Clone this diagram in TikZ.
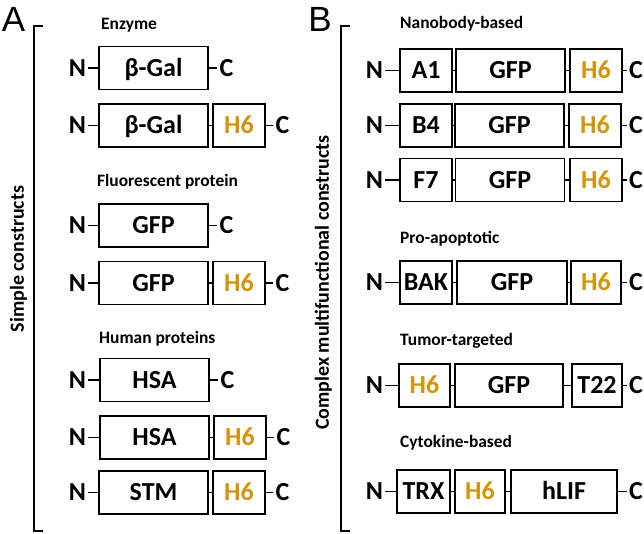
\documentclass[tikz,border=0pt]{standalone}
\usepackage{fontspec}
\setmainfont{Carlito}
\newfontfamily\panelfont{Liberation Sans}
\definecolor{hsixcol}{RGB}{214,148,12}
\begin{document}
\begin{tikzpicture}[x=1pt,y=-1pt,
  dom/.style={draw, line width=1.7pt, minimum height=43pt, inner sep=0pt,
    text height=16.7pt, text depth=0pt,
    font=\fontsize{26}{26}\selectfont\bfseries},
  hsix/.style={dom, text=hsixcol},
  term/.style={inner sep=2pt, font=\fontsize{26}{26}\selectfont\bfseries},
  head/.style={anchor=base west, inner sep=0pt, font=\fontsize{17.4}{17.4}\selectfont\bfseries},
  link/.style={line width=1.4pt},
  brack/.style={line width=1.6pt},
  side/.style={rotate=90, inner sep=0pt, font=\fontsize{20}{20}\selectfont\bfseries},
  panel/.style={inner sep=0pt, font=\fontsize{35}{35}\selectfont\panelfont}]
\useasboundingbox (0,0) rectangle (644,533);

% panel letters and brackets
\node[panel] (pa) at (13.5,19.5) {A};
\node[panel] (pb) at (320,19.5) {B};
\draw[brack] (43,26) -- (34,26) -- (34,531) -- (43,531);
\draw[brack] (350,26) -- (341,26) -- (341,531) -- (350,531);
\node[side] (sa) at (18.5,259) {Simple constructs};
\node[side] (sb) at (323.5,282.5) {Complex multifunctional constructs};

% headers
\node[head] (h1) at (101,29.5) {Enzyme};
\node[head] (h2) at (97,186) {Fluorescent protein};
\node[head] (h3) at (99,343) {Human proteins};
\node[head] (h4) at (400,28.5) {Nanobody-based};
\node[head] (h5) at (400,243) {Pro-apoptotic};
\node[head] (h6) at (400,345) {Tumor-targeted};
\node[head] (h7) at (400,447) {Cytokine-based};

% ---------- Panel A ----------
% row 1
\node[term] (an1) at (77.5,68) {N};
\node[dom, minimum width=109pt] (ab1) at (153.5,68) {β-Gal};
\node[term] (ac1) at (226.5,68) {C};
\draw[link] (an1) -- (ab1); \draw[link] (ab1) -- (ac1);
% row 2
\node[term] (an2) at (77.5,125.5) {N};
\node[dom, minimum width=109pt] (ab2) at (153.5,125.5) {β-Gal};
\node[hsix, minimum width=52pt] (ah2) at (239,125.5) {H6};
\node[term] (ac2) at (282.5,125.5) {C};
\draw[link] (an2) -- (ab2); \draw[link] (ab2) -- (ah2); \draw[link] (ah2) -- (ac2);
% row 3
\node[term] (an3) at (77.5,225.5) {N};
\node[dom, minimum width=109pt] (ab3) at (153.5,225.5) {GFP};
\node[term] (ac3) at (226.5,225.5) {C};
\draw[link] (an3) -- (ab3); \draw[link] (ab3) -- (ac3);
% row 4
\node[term] (an4) at (77.5,283) {N};
\node[dom, minimum width=109pt] (ab4) at (153.5,283) {GFP};
\node[hsix, minimum width=52pt] (ah4) at (239,283) {H6};
\node[term] (ac4) at (282.5,283) {C};
\draw[link] (an4) -- (ab4); \draw[link] (ab4) -- (ah4); \draw[link] (ah4) -- (ac4);
% row 5
\node[term] (an5) at (77.5,380) {N};
\node[dom, minimum width=109pt] (ab5) at (154.5,380) {HSA};
\node[term] (ac5) at (227.5,380) {C};
\draw[link] (an5) -- (ab5); \draw[link] (ab5) -- (ac5);
% row 6
\node[term] (an6) at (77.5,437.5) {N};
\node[dom, minimum width=109pt] (ab6) at (154.5,437.5) {HSA};
\node[hsix, minimum width=52pt] (ah6) at (240,437.5) {H6};
\node[term] (ac6) at (283.5,437.5) {C};
\draw[link] (an6) -- (ab6); \draw[link] (ab6) -- (ah6); \draw[link] (ah6) -- (ac6);
% row 7
\node[term] (an7) at (77.5,492.5) {N};
\node[dom, minimum width=109pt] (ab7) at (153.5,492.5) {STM};
\node[hsix, minimum width=52pt] (ah7) at (239,492.5) {H6};
\node[term] (ac7) at (282.5,492.5) {C};
\draw[link] (an7) -- (ab7); \draw[link] (ab7) -- (ah7); \draw[link] (ah7) -- (ac7);

% ---------- Panel B ----------
% row 1
\node[term] (bn1) at (374.5,70.5) {N};
\node[dom, minimum width=52pt] (bx1) at (426,70.5) {A1};
\node[dom, minimum width=109pt] (bg1) at (510.5,70.5) {GFP};
\node[hsix, minimum width=52pt] (bh1) at (596,70.5) {H6};
\node[term] (bc1) at (636,70.5) {C};
\draw[link] (bn1) -- (bx1); \draw[link] (bx1) -- (bg1); \draw[link] (bg1) -- (bh1); \draw[link] (bh1) -- (bc1);
% row 2
\node[term] (bn2) at (374.5,125.5) {N};
\node[dom, minimum width=52pt] (bx2) at (426,125.5) {B4};
\node[dom, minimum width=109pt] (bg2) at (509.5,125.5) {GFP};
\node[hsix, minimum width=52pt] (bh2) at (595,125.5) {H6};
\node[term] (bc2) at (636,125.5) {C};
\draw[link] (bn2) -- (bx2); \draw[link] (bx2) -- (bg2); \draw[link] (bg2) -- (bh2); \draw[link] (bh2) -- (bc2);
% row 3
\node[term] (bn3) at (374.5,180) {N};
\node[dom, minimum width=52pt] (bx3) at (426,180) {F7};
\node[dom, minimum width=109pt] (bg3) at (510,180) {GFP};
\node[hsix, minimum width=52pt] (bh3) at (596,180) {H6};
\node[term] (bc3) at (636,180) {C};
\draw[link] (bn3) -- (bx3); \draw[link] (bx3) -- (bg3); \draw[link] (bg3) -- (bh3); \draw[link] (bh3) -- (bc3);
% row 4
\node[term] (bn4) at (374.5,282.5) {N};
\node[dom, minimum width=52pt] (bx4) at (426,282.5) {BAK};
\node[dom, minimum width=110pt] (bg4) at (512,282.5) {GFP};
\node[hsix, minimum width=50pt] (bh4) at (596,282.5) {H6};
\node[term] (bc4) at (636,282.5) {C};
\draw[link] (bn4) -- (bx4); \draw[link] (bx4) -- (bg4); \draw[link] (bg4) -- (bh4); \draw[link] (bh4) -- (bc4);
% row 5
\node[term] (bn5) at (374.5,385.5) {N};
\node[hsix, minimum width=51pt] (bh5) at (424.5,385.5) {H6};
\node[dom, minimum width=108pt] (bg5) at (509,385.5) {GFP};
\node[dom, minimum width=50pt] (bt5) at (597,385.5) {T22};
\node[term] (bc5) at (636,385.5) {C};
\draw[link] (bn5) -- (bh5); \draw[link] (bh5) -- (bg5); \draw[link] (bg5) -- (bt5); \draw[link] (bt5) -- (bc5);
% row 6
\node[term] (bn6) at (374.5,491.5) {N};
\node[dom, minimum width=53pt] (bx6) at (423.5,491.5) {TRX};
\node[hsix, minimum width=50pt] (bh6) at (480,491.5) {H6};
\node[dom, minimum width=106pt] (bl6) at (564,491.5) {hLIF};
\node[term] (bc6) at (636,491.5) {C};
\draw[link] (bn6) -- (bx6); \draw[link] (bx6) -- (bh6); \draw[link] (bh6) -- (bl6); \draw[link] (bl6) -- (bc6);
\end{tikzpicture}
\end{document}
